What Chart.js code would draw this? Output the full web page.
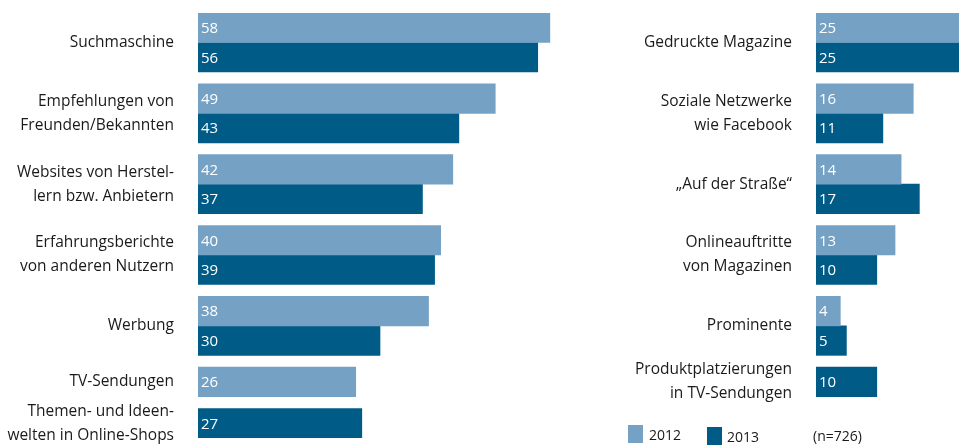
<!DOCTYPE html>
<html lang="de">
<head>
<meta charset="utf-8">
<script src="https://cdn.jsdelivr.net/npm/chart.js@4.4.0/dist/chart.umd.min.js"></script>
<style>
  html, body { margin: 0; padding: 0; background: #fff; overflow: hidden; }
  body { width: 959px; height: 445px; position: relative; font-family: "Open Sans", sans-serif; color: #1a1a1a; }
  .panel { position: absolute; top: 0; }
  .legend { position: absolute; font-size: 14px; line-height: 18px; }
  .swatch { position: absolute; width: 15px; height: 18px; }
</style>
</head>
<body>
<div class="panel" style="left:0"><canvas id="chartLeft" width="562" height="445"></canvas></div>
<div class="panel" style="left:600px"><canvas id="chartRight" width="368" height="445"></canvas></div>

<div class="swatch" style="left:628px;top:425px;background:#75a2c4"></div>
<div class="legend" id="lab2012" style="left:649px;top:426px"></div>
<div class="swatch" style="left:707px;top:427px;background:#005b87"></div>
<div class="legend" id="lab2013" style="left:727px;top:428px"></div>
<div class="legend" id="note" style="left:813px;top:427px"></div>

<script>
// --- Daten ---
const leftCategories = [
    'Suchmaschine',
    ['Empfehlungen von', 'Freunden/Bekannten'],
    ['Websites von Herstel-', 'lern bzw. Anbietern'],
    ['Erfahrungsberichte', 'von anderen Nutzern'],
    'Werbung',
    'TV-Sendungen',
    ['Themen- und Ideen-', 'welten in Online-Shops']
];
const left2012 = [58, 49, 42, 40, 38, 26, null];
const left2013 = [56, 43, 37, 39, 30, null, 27];

const rightCategories = [
    'Gedruckte Magazine',
    ['Soziale Netzwerke', 'wie Facebook'],
    '\u201EAuf der Straße\u201C',
    ['Onlineauftritte', 'von Magazinen'],
    'Prominente',
    ['Produktplatzierungen', 'in TV-Sendungen']
];
const right2012 = [25, 16, 14, 13, 4, null];
const right2013 = [25, 11, 17, 10, 5, 10];

const seriesLabels = ['2012', '2013'];
const sampleNote = '(n=726)';

const COLOR_2012 = '#75a2c4';
const COLOR_2013 = '#005b87';
const GAP = 0.4; // Abstand zwischen Gruppen (in Balkenhöhen)

document.getElementById('lab2012').textContent = seriesLabels[0];
document.getElementById('lab2013').textContent = seriesLabels[1];
document.getElementById('note').textContent = sampleNote;

// Zeilenpositionen: jede Gruppe so hoch wie ihre vorhandenen Balken
function rowLayout(a, b) {
    const centers = [];
    let pos = 0;
    for (let i = 0; i < a.length; i++) {
        const n = (a[i] !== null ? 1 : 0) + (b[i] !== null ? 1 : 0);
        centers.push(pos + n / 2);
        pos += n + GAP;
    }
    return { centers, total: pos - GAP };
}

const leftRows = rowLayout(left2012, left2013);
const rightRows = rowLayout(right2012, right2013);
const rowMax = Math.max(leftRows.total, rightRows.total);

// Werte in die Balken schreiben
const valueLabels = {
    id: 'valueLabels',
    afterDatasetsDraw(chart) {
        const ctx = chart.ctx;
        ctx.save();
        ctx.font = '15px "Open Sans", sans-serif';
        ctx.fillStyle = '#ffffff';
        ctx.textAlign = 'left';
        ctx.textBaseline = 'middle';
        chart.data.datasets.forEach((ds, di) => {
            chart.getDatasetMeta(di).data.forEach((bar, i) => {
                const v = ds.data[i].x;
                if (v === null) return;
                ctx.fillText(v, bar.base + 3, bar.y + 1);
            });
        });
        ctx.restore();
    }
};

function makeChart(id, cats, s2012, s2013, rows, xMax, axisWidth) {
    const ctx = document.getElementById(id).getContext('2d');
    return new Chart(ctx, {
        type: 'bar',
        data: {
            datasets: [
                {
                    label: seriesLabels[0],
                    data: s2012.map((v, i) => ({ x: v, y: rows.centers[i] })),
                    backgroundColor: COLOR_2012
                },
                {
                    label: seriesLabels[1],
                    data: s2013.map((v, i) => ({ x: v, y: rows.centers[i] })),
                    backgroundColor: COLOR_2013
                }
            ]
        },
        options: {
            indexAxis: 'y',
            responsive: false,
            animation: false,
            skipNull: true,
            barThickness: 29.5,
            layout: { padding: { top: 13, bottom: 7, left: 0, right: 0 } },
            plugins: {
                legend: { display: false },
                tooltip: { enabled: false }
            },
            scales: {
                x: { display: false, min: 0, max: xMax },
                y: {
                    type: 'linear',
                    reverse: true,
                    offset: false,
                    min: 0,
                    max: rowMax,
                    bounds: 'data',
                    grid: { display: false, drawTicks: false, offset: false },
                    border: { display: false },
                    afterBuildTicks: (axis) => {
                        axis.ticks = rows.centers.map(c => ({ value: c }));
                    },
                    afterFit: (axis) => {
                        axis.width = axisWidth;
                        axis.paddingTop = 0;
                        axis.paddingBottom = 0;
                    },
                    ticks: {
                        autoSkip: false,
                        padding: 24,
                        color: '#1a1a1a',
                        font: { family: '"Open Sans", sans-serif', size: 15.5, lineHeight: 1.55 },
                        callback: (value, index) => cats[index]
                    }
                }
            }
        },
        plugins: [valueLabels]
    });
}

makeChart('chartLeft', leftCategories, left2012, left2013, leftRows, 60, 198);
makeChart('chartRight', rightCategories, right2012, right2013, rightRows, 25, 216);
</script>
</body>
</html>
